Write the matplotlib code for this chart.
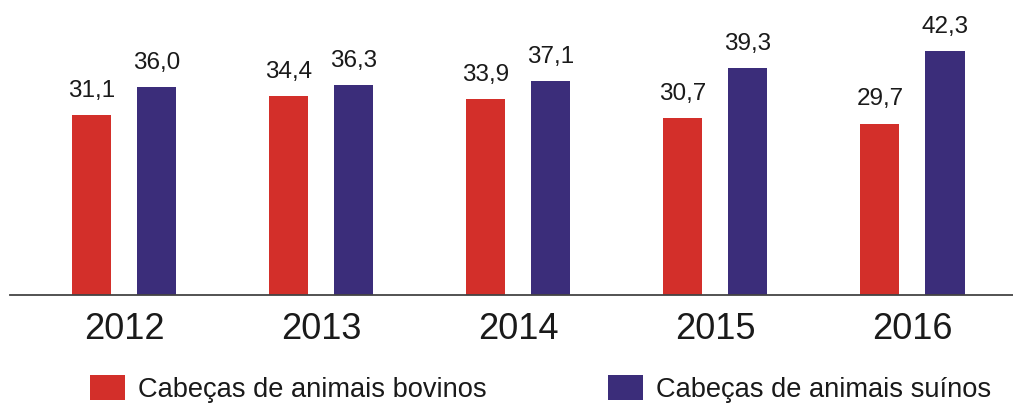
import matplotlib.pyplot as plt
import numpy as np

# Dados do gráfico
anos = ['2012', '2013', '2014', '2015', '2016']
bovinos = [31.1, 34.4, 33.9, 30.7, 29.7]
suinos = [36.0, 36.3, 37.1, 39.3, 42.3]
rotulo_bovinos = 'Cabeças de animais bovinos'
rotulo_suinos = 'Cabeças de animais suínos'

cor_bovinos = '#D32F2A'
cor_suinos = '#3B2D7A'

plt.rcParams['font.family'] = ['Liberation Sans', 'DejaVu Sans']

fig = plt.figure(figsize=(10.13, 4.07), dpi=100)
ax = fig.add_axes([10 / 1013, 112 / 407, 1003 / 1013, 295 / 407])

x = np.arange(len(anos))
largura = 0.198
desloc = 0.165
b1 = ax.bar(x - desloc, bovinos, largura, color=cor_bovinos, label=rotulo_bovinos)
b2 = ax.bar(x + desloc, suinos, largura, color=cor_suinos, label=rotulo_suinos)

# Rótulos de valores com vírgula decimal
for barras, valores in [(b1, bovinos), (b2, suinos)]:
    for barra, v in zip(barras, valores):
        ax.annotate(f'{v:.1f}'.replace('.', ','),
                    (barra.get_x() + barra.get_width() / 2, v),
                    xytext=(0, 13), textcoords='offset points',
                    ha='center', va='baseline', fontsize=17.5, color='#1a1a1a')

ax.set_xlim(-0.578, 4.51)
ax.set_ylim(0, 51.1)
ax.set_xticks(x)
ax.set_xticklabels(anos, fontsize=26, color='#1a1a1a')
ax.tick_params(axis='x', length=0, pad=12)
ax.set_yticks([])
for lado in ['top', 'right', 'left']:
    ax.spines[lado].set_visible(False)
ax.spines['bottom'].set_color('#444444')
ax.spines['bottom'].set_linewidth(1.3)

fig.legend(handles=[b1, b2], loc='center left', bbox_to_anchor=(90 / 1013, 1 - 389 / 407),
           ncol=2, frameon=False, fontsize=19.6, handlelength=1.29, handleheight=1.03,
           handletextpad=0.48, columnspacing=4.45, borderpad=0, borderaxespad=0,
           labelcolor='#1a1a1a')

plt.savefig('out.png', dpi=100)
